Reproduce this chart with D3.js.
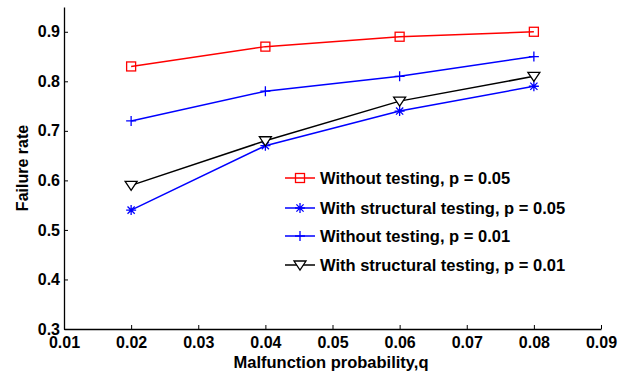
<!DOCTYPE html>
<html lang="en">
<head>
<meta charset="utf-8">
<title>Failure rate</title>
<script src="https://d3js.org/d3.v7.min.js"></script>
<style>
  body { margin: 0; background: #fff; }
  text { font-family: "Liberation Sans", Arial, sans-serif; font-weight: bold; }
</style>
</head>
<body>
<script>
// Data
var qValues = [0.02, 0.04, 0.06, 0.08];
var seriesNames = ["Without testing, p = 0.05", "With structural testing, p = 0.05",
                   "Without testing, p = 0.01", "With structural testing, p = 0.01"];
var noTest05 = [0.83, 0.87, 0.89, 0.90];
var structTest05 = [0.54, 0.67, 0.74, 0.79];
var noTest01 = [0.72, 0.78, 0.81, 0.85];
var structTest01 = [0.59, 0.68, 0.76, 0.81];
var xTicks = [0.01, 0.02, 0.03, 0.04, 0.05, 0.06, 0.07, 0.08, 0.09];
var yTicks = [0.3, 0.4, 0.5, 0.6, 0.7, 0.8, 0.9];

var width = 628, height = 372;
var plotLeft = 64, plotRight = 601, plotTop = 7, plotBottom = 329;

var x = d3.scaleLinear().domain([0.01, 0.09]).range([plotLeft, plotRight]);
var y = d3.scaleLinear().domain([0.3, 0.95]).range([plotBottom, plotTop]);

var svg = d3.select("body").append("svg")
    .attr("width", width)
    .attr("height", height);

// axes (MATLAB style: inward ticks, no box)
var xAxis = svg.append("g")
    .attr("transform", "translate(0," + plotBottom + ")")
    .call(d3.axisBottom(x).tickValues(xTicks).tickFormat(d3.format(".2f"))
        .tickSizeInner(-4).tickSizeOuter(0).tickPadding(8));
var yAxis = svg.append("g")
    .attr("transform", "translate(" + plotLeft + ",0)")
    .call(d3.axisLeft(y).tickValues(yTicks).tickFormat(d3.format(".1f"))
        .tickSizeInner(-4).tickSizeOuter(0).tickPadding(4));
[xAxis, yAxis].forEach(function(a) {
  a.select(".domain").attr("stroke", "#000").attr("stroke-width", 1.3);
  a.selectAll(".tick line").attr("stroke", "#000");
  a.selectAll(".tick text").attr("font-size", 16).attr("fill", "#000")
    .style("font-family", "'Liberation Sans', Arial, sans-serif").style("font-weight", "bold");
});

svg.append("text")
    .attr("x", 331)
    .attr("y", 368)
    .attr("text-anchor", "middle")
    .attr("font-size", 16.5)
    .text("Malfunction probability,q");

svg.append("text")
    .attr("transform", "translate(28," + (plotBottom + plotTop) / 2 + ") rotate(-90)")
    .attr("text-anchor", "middle")
    .attr("font-size", 16)
    .text("Failure rate");

// markers
function drawMarker(g, type, color) {
  if (type === "square") {
    g.append("rect").attr("x", -4.5).attr("y", -4.5).attr("width", 9).attr("height", 9)
      .attr("fill", "none").attr("stroke", color).attr("stroke-width", 1.3);
  } else if (type === "plus") {
    g.append("path").attr("d", "M-5,0H5M0,-5V5")
      .attr("stroke", color).attr("stroke-width", 1.3);
  } else if (type === "star") {
    g.append("path").attr("d", "M-5,0H5M0,-5V5M-3.6,-3.6L3.6,3.6M-3.6,3.6L3.6,-3.6")
      .attr("stroke", color).attr("stroke-width", 1.3);
  } else if (type === "tri") {
    g.append("path").attr("d", "M-6,-4L6,-4L0,5Z")
      .attr("fill", "#fff").attr("stroke", color).attr("stroke-width", 1.3);
  }
}

var series = [
  { name: seriesNames[0], values: noTest05, color: "#ff0000", marker: "square" },
  { name: seriesNames[1], values: structTest05, color: "#0000ff", marker: "star" },
  { name: seriesNames[2], values: noTest01, color: "#0000ff", marker: "plus" },
  { name: seriesNames[3], values: structTest01, color: "#000000", marker: "tri" }
];

var line = d3.line()
    .x(function(d, i) { return x(qValues[i]); })
    .y(function(d) { return y(d); });

series.forEach(function(s) {
  svg.append("path")
      .datum(s.values)
      .attr("d", line)
      .attr("fill", "none")
      .attr("stroke", s.color)
      .attr("stroke-width", 1.5);
  s.values.forEach(function(v, i) {
    var g = svg.append("g").attr("transform", "translate(" + x(qValues[i]) + "," + y(v) + ")");
    drawMarker(g, s.marker, s.color);
  });
});

// legend
var legY = [178, 208, 236, 265];
series.forEach(function(s, i) {
  var g = svg.append("g").attr("transform", "translate(285," + legY[i] + ")");
  g.append("line").attr("x1", 0).attr("x2", 30).attr("y1", 0).attr("y2", 0)
    .attr("stroke", s.color).attr("stroke-width", 1.5);
  var m = g.append("g").attr("transform", "translate(15,0)");
  drawMarker(m, s.marker, s.color);
  g.append("text").attr("x", 35).attr("y", 6).attr("font-size", 16.5).text(s.name);
});
</script>
</body>
</html>
